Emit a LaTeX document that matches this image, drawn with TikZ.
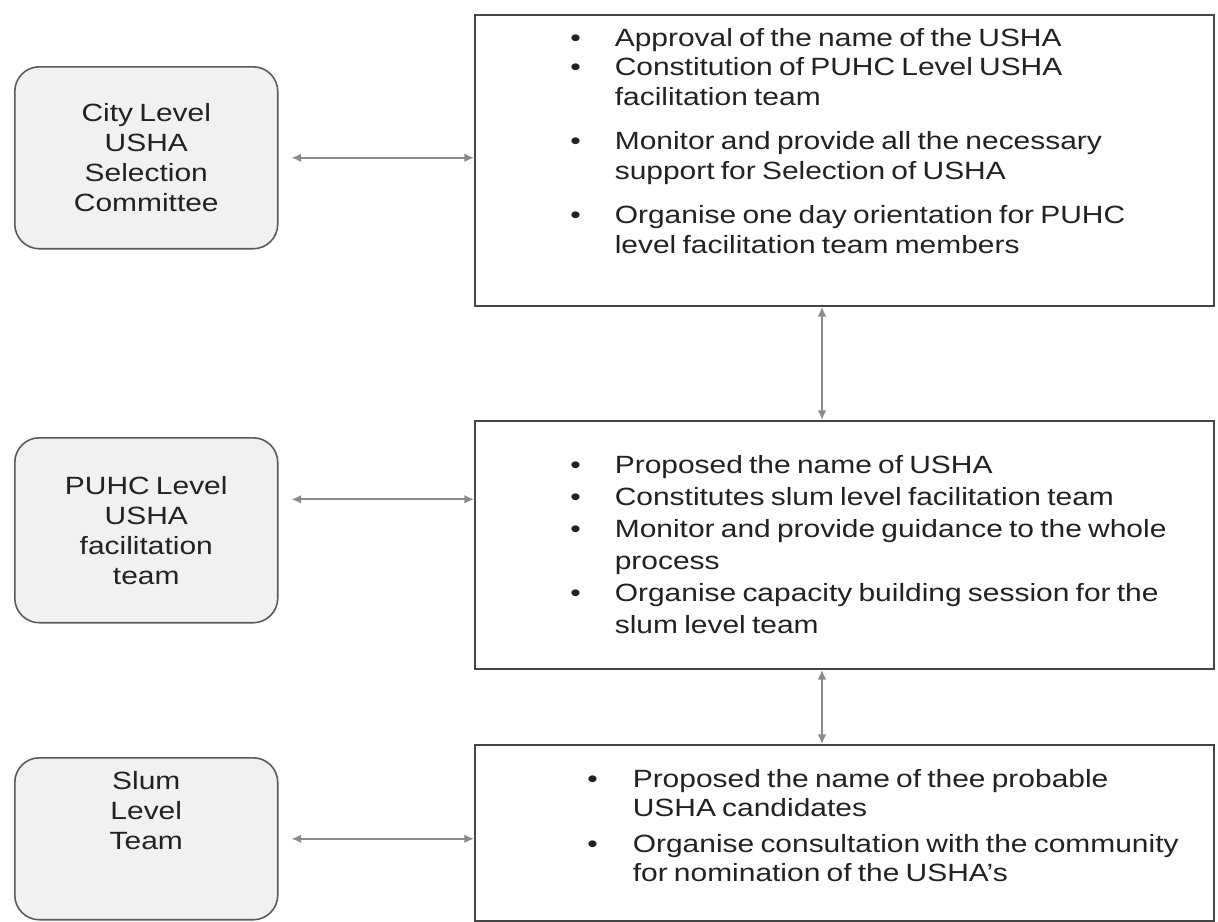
\documentclass[tikz,border=0pt]{standalone}
\usepackage{fontspec}
\setmainfont{Liberation Sans}[FakeStretch=1.2,WordSpace=0.75]
\usetikzlibrary{arrows.meta}
\definecolor{framegray}{HTML}{454545}
\definecolor{boxgray}{HTML}{5A5A5A}
\definecolor{linkgray}{HTML}{8A8A8A}
\definecolor{levelfill}{HTML}{F3F0F1}
\definecolor{inkgray}{HTML}{222222}
\tikzset{>={Latex[length=5.5pt,width=5pt]}}
\tikzset{
  level/.style = {
    draw=boxgray, line width=0.9pt, fill=levelfill,
    rounded corners=14pt, anchor=north west, inner sep=0pt,
    text=inkgray, align=center,
    font=\fontsize{14.2pt}{17pt}\selectfont
  },
  duty/.style = {
    draw=framegray, line width=1.1pt, fill=white,
    anchor=north west, inner sep=0pt
  },
  points/.style = {anchor=base west, text=inkgray, inner sep=0pt},
  link/.style = {<->, draw=linkgray, line width=1pt}
}

\begin{document}
\begin{tikzpicture}[x=0.02cm,y=-0.02cm]
    \useasboundingbox (0,0) rectangle (1218,921);
    % left column
    \node[level, minimum width=5.26cm, minimum height=3.64cm] (city) at (14,66)
      {City Level\\USHA\\Selection\\Committee};
    \node[level, minimum width=5.26cm, minimum height=3.7cm] (puhc) at (14,437)
      {PUHC Level\\USHA\\facilitation\\team};
    \node[level, minimum width=5.26cm, minimum height=3.24cm] (slum) at (14,757)
      {\begin{tabular}{@{}c@{}}Slum\\Level\\Team\\[1cm]\end{tabular}};
    % right column
    \node[duty, minimum width=14.78cm, minimum height=5.82cm] (cityjob) at (474,14) {};
    \node[duty, minimum width=14.78cm, minimum height=4.96cm] (puhcjob) at (474,420) {};
    \node[duty, minimum width=14.78cm, minimum height=3.52cm] (slumjob) at (474,744) {};
    \node[points, font=\fontsize{14.2pt}{17pt}\selectfont] (citytxt) at (570,46) {%
      \begin{tabular}[t]{@{}l@{\hspace{0.68cm}}l@{}}
        \textbullet & Approval of the name of the USHA\\
        \textbullet & Constitution of PUHC Level USHA\\
                    & facilitation team\\[8pt]
        \textbullet & Monitor and provide all the necessary\\
                    & support for Selection of USHA\\[8pt]
        \textbullet & Organise one day orientation for PUHC\\
                    & level facilitation team members
      \end{tabular}};
    \node[points, font=\fontsize{14.2pt}{18.3pt}\selectfont] (puhctxt) at (570,473) {%
      \begin{tabular}[t]{@{}l@{\hspace{0.68cm}}l@{}}
        \textbullet & Proposed the name of USHA\\
        \textbullet & Constitutes slum level facilitation team\\
        \textbullet & Monitor and provide guidance to the whole\\
                    & process\\
        \textbullet & Organise capacity building session for the\\
                    & slum level team
      \end{tabular}};
    \node[points, font=\fontsize{14.2pt}{17pt}\selectfont] (slumtxt) at (587,787) {%
      \begin{tabular}[t]{@{}l@{\hspace{0.7cm}}l@{}}
        \textbullet & Proposed the name of thee probable\\
                    & USHA candidates\\[3pt]
        \textbullet & Organise consultation with the community\\
                    & for nomination of the USHA's
      \end{tabular}};
    % connectors
    \coordinate (spine) at (822,0);
    \draw[link, shorten <=7.4pt] (city.east) -- (city.east -| cityjob.west);
    \draw[link, shorten <=7.4pt] ([yshift=0.62cm]puhc.east) -- ([yshift=0.62cm]puhc.east -| puhcjob.west);
    \draw[link, shorten <=7.4pt] (slum.east) -- (slum.east -| slumjob.west);
    \draw[link] (cityjob.south -| spine) -- (puhcjob.north -| spine);
    \draw[link] (puhcjob.south -| spine) -- (slumjob.north -| spine);
\end{tikzpicture}
\end{document}
